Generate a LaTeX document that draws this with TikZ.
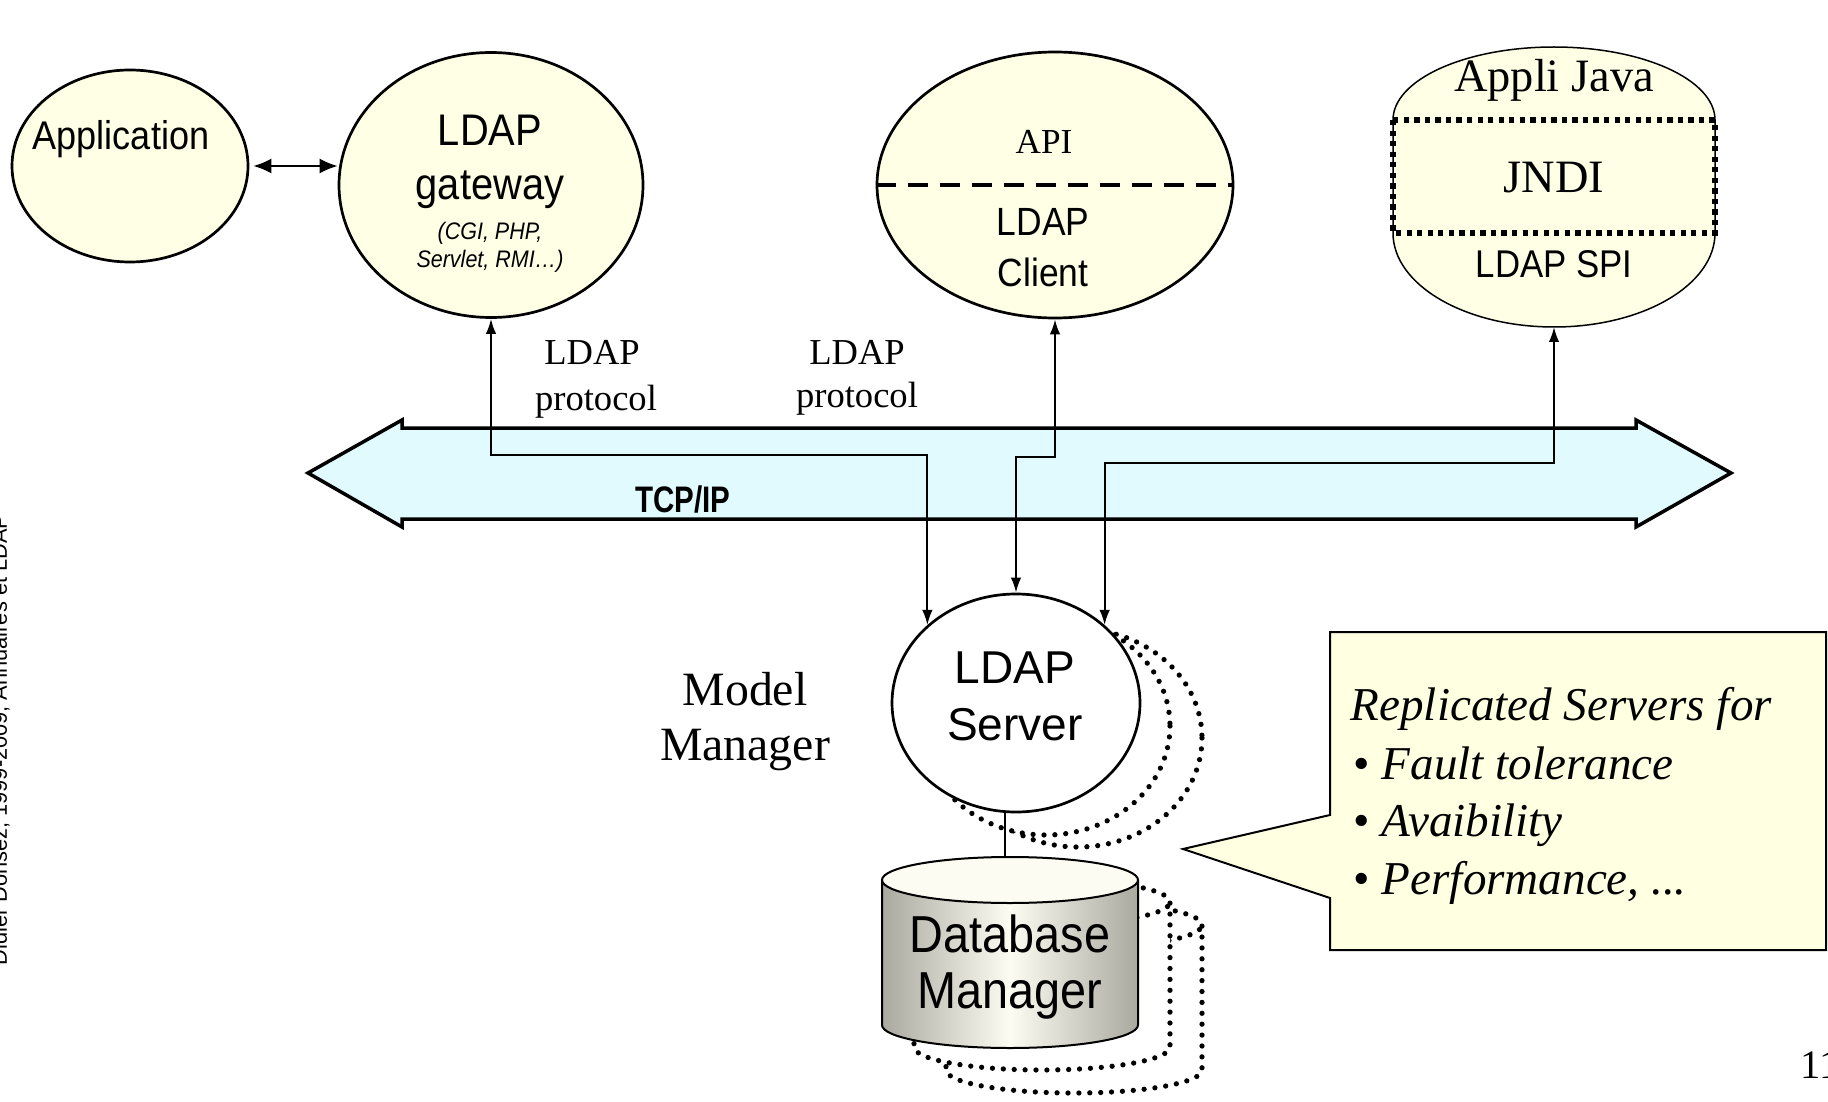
\documentclass[tikz,border=0pt]{standalone}
\usepackage{fontspec}
\setmainfont{Liberation Serif}
\setsansfont{Liberation Sans}
\newfontfamily\narrowsf[FakeStretch=0.9]{Liberation Sans}
\newfontfamily\condsf[FakeStretch=0.8]{Liberation Sans}
\usetikzlibrary{shapes.geometric}
\usetikzlibrary{arrows.meta}

\definecolor{paleyellow}{HTML}{FFFFE6}
\definecolor{palecyan}{HTML}{E0FAFD}
\definecolor{notefill}{HTML}{FFFFE2}
\definecolor{dbgray}{HTML}{A9A9A0}
\definecolor{dblight}{HTML}{FCFCF2}
\newcommand{\fsz}[1]{\fontsize{#1pt}{#1pt}\selectfont}

\begin{document}
\begin{tikzpicture}[x=0.1mm, y=-0.1mm,
  bubble/.style={draw, ellipse, line width=0.27mm, fill=paleyellow, inner sep=0pt},
  link/.style={line width=0.2mm, {Latex[length=1.5mm,width=1.05mm]}-{Latex[length=1.5mm,width=1.05mm]}},
  replica/.style={line width=1.5pt, line cap=round, dash pattern=on 0pt off 3.1pt},
  txt/.style={anchor=base, inner sep=0pt}]
  \useasboundingbox (0,0) rectangle (1828,1102);

  % clients
  \node[bubble, minimum width=23.6mm, minimum height=19.2mm] (app) at (130,166) {};
  \node[txt, font=\narrowsf\fsz{11.4}] (app-t) at (121,150) {Application};
  \node[bubble, minimum width=30.4mm, minimum height=26.5mm] (gw) at (491,185) {};
  \node[txt, font=\narrowsf\fsz{12.6}] (gw-t1) at (490,146) {LDAP};
  \node[txt, font=\narrowsf\fsz{12.6}] (gw-t2) at (490,200) {gateway};
  \node[txt, font=\narrowsf\itshape\fsz{6.8}] (gw-t3) at (490,240) {(CGI, PHP,};
  \node[txt, font=\narrowsf\itshape\fsz{6.8}] (gw-t4) at (490,268) {Servlet, RMI\ldots)};
  \draw[line width=0.2mm, {Latex[length=1.8mm,width=1.5mm]}-{Latex[length=1.8mm,width=1.5mm]}, shorten <=0.4mm] (app.east) -- (app.east -| gw.west);

  \node[bubble, minimum width=35.6mm, minimum height=26.6mm] (api) at (1055,185) {};
  \draw[line width=0.4mm, dash pattern=on 2mm off 1.2mm] (api.west) -- (api.east);
  \node[txt, font=\fsz{10}] (api-t1) at (1044,154) {API};
  \node[txt, font=\narrowsf\fsz{11.2}] (api-t2) at (1043,236) {LDAP};
  \node[txt, font=\narrowsf\fsz{11.2}] (api-t3) at (1043,287) {Client};

  % java application
  \draw[line width=0.15mm, fill=paleyellow] (1393,120) arc[start angle=180, end angle=360, x radius=161, y radius=73]
    -- (1715,233) arc[start angle=0, end angle=180, x radius=161, y radius=94] -- cycle;
  \draw[line width=1.5pt, dash pattern=on 1.5pt off 1.5pt] (1393,120) rectangle (1715,233);
  \coordinate (jv) at (1554,327);
  \node[txt, font=\fsz{13.2}] (jv-t1) at (1554,92) {Appli Java};
  \node[txt, font=\fsz{13.2}] (jv-t2) at (1554,193) {JNDI};
  \node[txt, font=\narrowsf\fsz{11}] (jv-t3) at (1554,278) {LDAP SPI};

  % network
  \draw[line width=0.35mm, fill=palecyan] (308,473) -- (402,420) -- (402,428) -- (1636,428) -- (1636,420)
    -- (1731,473) -- (1636,527) -- (1636,519) -- (402,519) -- (402,527) -- cycle;
  \node[txt, font=\condsf\bfseries\fsz{10.5}] (tcp) at (683,512) {TCP/IP};
  \node[txt, font=\fsz{10.4}] (p1a) at (592,364) {LDAP};
  \node[txt, font=\fsz{10.4}] (p1b) at (596,410) {protocol};
  \node[txt, font=\fsz{10.4}] (p2a) at (857,364) {LDAP};
  \node[txt, font=\fsz{10.4}] (p2b) at (857,407) {protocol};

  % server and its replicas
  \foreach \dx/\dy in {62/35, 30/23}
    \draw[replica, fill=white] (1016+\dx,703+\dy) ellipse[x radius=124, y radius=109];
  \node[bubble, fill=white, minimum width=24.8mm, minimum height=21.8mm] (srv) at (1016,703) {};
  \node[txt, font=\sffamily\fsz{13.1}] (srv-t1) at (1015,683) {LDAP};
  \node[txt, font=\sffamily\fsz{13.1}] (srv-t2) at (1015,740) {Server};
  \node[txt, font=\fsz{13.6}] (mm1) at (745,705) {Model};
  \node[txt, font=\fsz{13.6}] (mm2) at (745,760) {Manager};

  % database and its replicas
  \foreach \dx/\dy in {64/45, 32/22}
    \draw[replica, fill=white] (882+\dx,880+\dy) -- (882+\dx,1025+\dy) arc[start angle=180, end angle=0, x radius=128, y radius=23]
      -- (1138+\dx,880+\dy) arc[start angle=0, end angle=-180, x radius=128, y radius=23]
      (882+\dx,880+\dy) arc[start angle=180, end angle=0, x radius=128, y radius=23];
  \fill[left color=dbgray, right color=dbgray, middle color=dblight] (882,880) -- (882,1025)
    arc[start angle=180, end angle=0, x radius=128, y radius=23] -- (1138,880)
    arc[start angle=0, end angle=-180, x radius=128, y radius=23] -- cycle;
  \draw[line width=0.2mm] (882,880) -- (882,1025) arc[start angle=180, end angle=0, x radius=128, y radius=23] -- (1138,880);
  \draw[line width=0.2mm, fill=dblight] (1010,880) ellipse[x radius=128, y radius=23];
  \coordinate (dbtop) at (1005,857);
  \node[txt, font=\narrowsf\fsz{14.8}] (db-t1) at (1010,952) {Database};
  \node[txt, font=\narrowsf\fsz{14.8}] (db-t2) at (1010,1008) {Manager};
  \draw[line width=0.2mm] (srv.south -| dbtop) -- (dbtop);

  % protocol links
  \draw[link] (srv.north west) -- ++(0,-170) -| (gw.south);
  \draw[link] (srv.north) -- ++(0,-136) -| (api.south);
  \draw[link] (srv.north east) -- ++(0,-162) -| (jv);

  % note
  \draw[line width=0.2mm, fill=notefill] (1330,632) -- (1826,632) -- (1826,950) -- (1330,950)
    -- (1330,898) -- (1183,849) -- (1330,815) -- cycle;
  \node[txt, anchor=base west, font=\fsz{13.4}] (n1) at (1350,720) {\textit{Replicated Servers for}};
  \node[txt, anchor=base west, font=\fsz{13.4}] (n2) at (1353,779) {\textbullet\ \textit{Fault tolerance}};
  \node[txt, anchor=base west, font=\fsz{13.4}] (n3) at (1353,836) {\textbullet\ \textit{Avaibility}};
  \node[txt, anchor=base west, font=\fsz{13.4}] (n4) at (1353,894) {\textbullet\ \textit{Performance, ...}};

  % slide furniture
  \node[txt, rotate=90, font=\sffamily\fsz{6.2}] (credit) at (7,740) {Didier Donsez, 1999-2009, Annuaires et LDAP};
  \node[txt, anchor=base west, font=\fsz{11.5}] (pg) at (1800,1078) {11};
\end{tikzpicture}
\end{document}
